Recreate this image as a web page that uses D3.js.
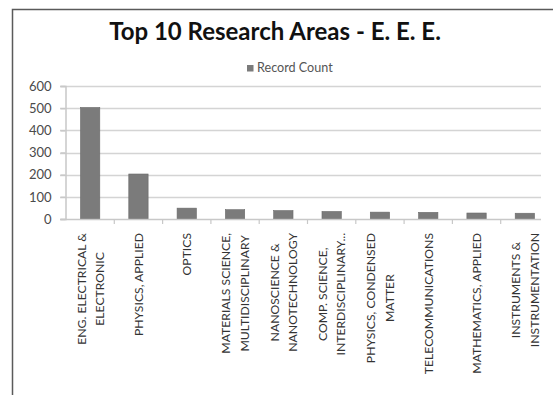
<!DOCTYPE html>
<html><head><meta charset="utf-8">
<script src="https://cdn.jsdelivr.net/npm/d3@7"></script>
<style>html,body{margin:0;padding:0;background:#fff;}svg{display:block;}</style>
</head><body>
<script>
const categories = [
  ["ENG. ELECTRICAL &", "ELECTRONIC"],
  ["PHYSICS, APPLIED"],
  ["OPTICS"],
  ["MATERIALS SCIENCE,", "MULTIDISCIPLINARY"],
  ["NANOSCIENCE &", "NANOTECHNOLOGY"],
  ["COMP. SCIENCE,", "INTERDISCIPLINARY..."],
  ["PHYSICS, CONDENSED", "MATTER"],
  ["TELECOMMUNICATIONS"],
  ["MATHEMATICS, APPLIED"],
  ["INSTRUMENTS &", "INSTRUMENTATION"]
];
const recordCount = [503, 203, 49, 42, 38, 34, 31, 30, 27, 26];
const yTicks = [0, 100, 200, 300, 400, 500, 600];
const title = "Top 10 Research Areas - E. E. E.";
const seriesName = "Record Count";

const W = 553, H = 395;
const svg = d3.select("body").append("svg").attr("width", W).attr("height", H);
const font = "Lato, 'Open Sans', sans-serif";

// outer chart border (cropped at right/bottom)
svg.append("path").attr("d", "M12.5,395 V9.5 H553")
  .attr("fill", "none").attr("stroke", "#5a5a5a").attr("stroke-width", 1.5);

const x0 = 66, x1 = 549, gridEnd = 541;
const y = d3.scaleLinear().domain([0, 600]).range([219, 86]);
const x = d3.scaleBand().domain(d3.range(categories.length)).range([x0, x1])
  .paddingInner(0.6).paddingOuter(0.3);

// gridlines
svg.append("g").selectAll("line").data(yTicks.filter(d => d > 0)).join("line")
  .attr("x1", 60).attr("x2", gridEnd)
  .attr("y1", d => Math.round(y(d)) + 0.5).attr("y2", d => Math.round(y(d)) + 0.5)
  .attr("stroke", "#d4d4d4").attr("stroke-width", 1.5);

// y axis
const yAxis = d3.axisLeft(y).tickValues(yTicks).tickSize(5).tickPadding(9);
const gy = svg.append("g").attr("transform", "translate(65.5,0)").call(yAxis);
gy.select(".domain").attr("stroke", "#c8c8c8").attr("stroke-width", 1.5);
gy.selectAll(".tick line").attr("stroke", "#c8c8c8").attr("stroke-width", 1.5);
gy.selectAll(".tick text").attr("font-family", font).attr("font-size", 13)
  .attr("fill", "#4a4a4a");

// bars
svg.append("g").selectAll("rect").data(recordCount).join("rect")
  .attr("x", (d, i) => x(i)).attr("width", x.bandwidth())
  .attr("y", d => y(d)).attr("height", d => y(0) - y(d))
  .attr("fill", "#7b7b7b").attr("stroke", "#6a6a6a").attr("stroke-width", 0.6);

// x axis baseline and category ticks
svg.append("line").attr("x1", 60).attr("x2", gridEnd)
  .attr("y1", Math.round(y(0)) + 0.5).attr("y2", Math.round(y(0)) + 0.5)
  .attr("stroke", "#c8c8c8").attr("stroke-width", 1.5);
const step = x.step();
svg.append("g").selectAll("line").data(d3.range(1, categories.length)).join("line")
  .attr("x1", i => x0 + i * step).attr("x2", i => x0 + i * step)
  .attr("y1", y(0)).attr("y2", y(0) + 5)
  .attr("stroke", "#c8c8c8").attr("stroke-width", 1.2);

// category labels, rotated, reading bottom-to-top
const lineGap = 18.3, labelTop = 233;
const lab = svg.append("g");
categories.forEach((lines, i) => {
  const cx = x(i) + x.bandwidth() / 2;
  const g = lab.append("g");
  const n = lines.length;
  const texts = lines.map((t, k) => g.append("text")
    .attr("font-family", font).attr("font-size", 12.2).attr("fill", "#333")
    .attr("text-anchor", "middle").text(t));
  const widths = texts.map(t => t.node().getComputedTextLength());
  const maxW = d3.max(widths);
  const midY = labelTop + maxW / 2;
  texts.forEach((t, k) => {
    const off = (k - (n - 1) / 2) * lineGap;
    const lx = cx + off + 4.5;
    t.attr("transform", `translate(${lx},${midY}) rotate(-90)`);
  });
});

// title
svg.append("text").attr("x", 275).attr("y", 40).attr("text-anchor", "middle")
  .attr("font-family", font).attr("font-weight", "bold").attr("font-size", 24)
  .attr("fill", "#111").text(title);

// legend
const lg = svg.append("g");
lg.append("rect").attr("x", 247).attr("y", 65).attr("width", 6.5).attr("height", 6.5)
  .attr("fill", "#7b7b7b");
lg.append("text").attr("x", 257).attr("y", 72).attr("font-family", font)
  .attr("font-size", 12.6).attr("fill", "#555").text(seriesName);
</script>
</body></html>
